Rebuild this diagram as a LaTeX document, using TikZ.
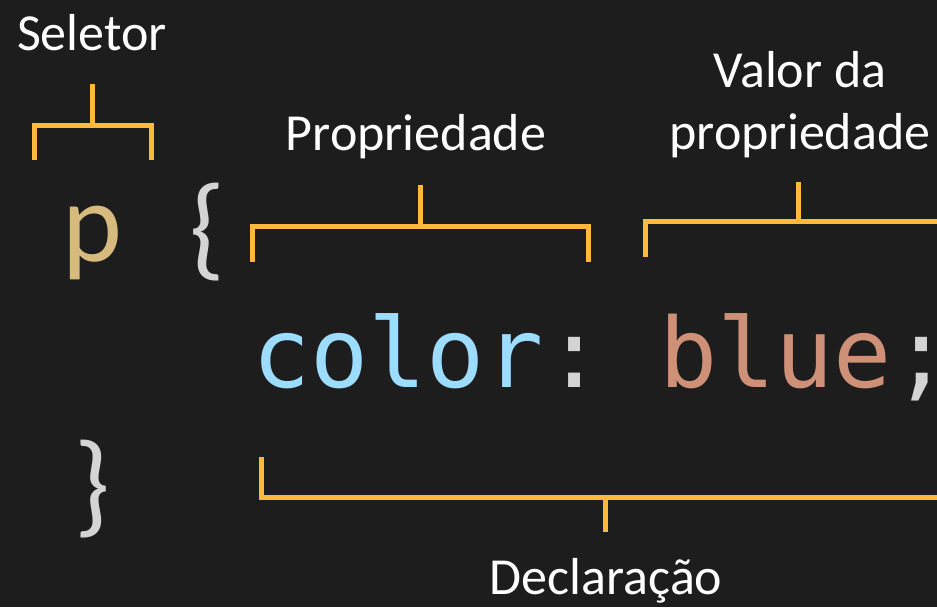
\documentclass[tikz,border=0pt]{standalone}
\usepackage{fontspec}
\setmainfont{Carlito}
\newfontfamily\codefont{DejaVu Sans Mono}
\usetikzlibrary{positioning}
\definecolor{fundo}{HTML}{1D1D1D}
\definecolor{laranja}{HTML}{FDB93C}
\definecolor{seletorcor}{HTML}{D7BA7D}
\definecolor{chavecor}{HTML}{D4D4D4}
\definecolor{propcor}{HTML}{9CDCFE}
\definecolor{valorcor}{HTML}{CE9178}
\tikzset{
  rotulo/.style={text=white,inner sep=0pt,font=\fontsize{39}{47}\selectfont,align=center},
  colchete/.style={draw=laranja,line width=3.75pt},
  codigo/.style={inner sep=0pt,anchor=base west,font=\codefont\fontsize{72.5}{80}\selectfont},
  simbolo/.style={inner sep=0pt,anchor=base,font=\fontsize{85.5}{90}\selectfont}
}
\begin{document}
\begin{tikzpicture}[x=0.75pt,y=-0.75pt]
  \fill[fundo] (0,0) rectangle (937,607);
  \useasboundingbox (0,0) rectangle (937,607);
  % rotulos
  \node[rotulo,anchor=base] (seletor) at (92,50) {Seletor};
  \node[rotulo,anchor=base] (propriedade) at (416,150) {Propriedade};
  \node[rotulo,anchor=south,text depth=0pt] (valor) at (800,150) {Valor da\\propriedade};
  \node[rotulo,anchor=base] (declaracao) at (606,594) {Declaração};
  % codigo
  \node[simbolo,text=seletorcor] (p) at (92,261) {p};
  \node[simbolo,text=chavecor] (abre) at (207,265) {\{};
  \node[simbolo,text=chavecor] (fecha) at (92,522) {\}};
  \node[codigo,text=propcor] (cor) at (252,387) {color};
  \node[codigo,text=chavecor] (doispontos) at (545,387) {:};
  \node[codigo,text=valorcor] (azul) at (659,387) {blue};
  \node[codigo,text=chavecor] (pontovirgula) at (892,387) {;};
  % colchetes
  \draw[colchete] (92,84) -- (92,125);
  \draw[colchete] (34,160) -- (34,125) -- (151,125) -- (151,160);
  \draw[colchete] (420,185) -- (420,226);
  \draw[colchete] (252,262) -- (252,226) -- (588,226) -- (588,262);
  \draw[colchete] (798,182) -- (798,221);
  \draw[colchete] (645,257) -- (645,221) -- (945,221);
  \draw[colchete] (261,457) -- (261,497) -- (945,497);
  \draw[colchete] (605,497) -- (605,532);
\end{tikzpicture}
\end{document}
